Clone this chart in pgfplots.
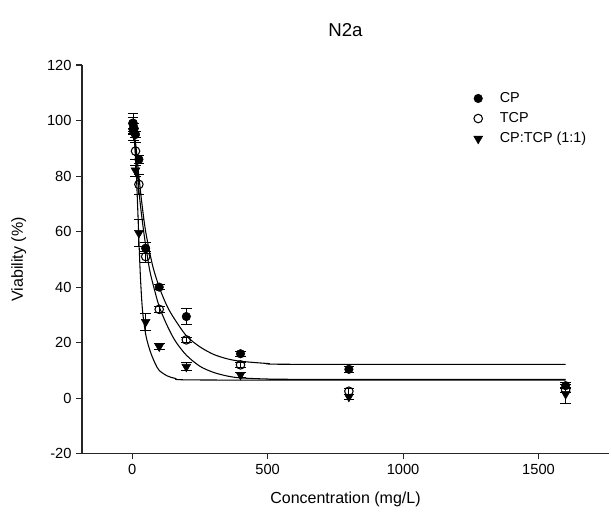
\documentclass[border=0pt]{standalone}
\usepackage{fontspec}
\setmainfont{Liberation Sans}
\usepackage{pgfplots}
\pgfplotsset{compat=1.18}
\begin{document}
\begin{tikzpicture}
\begin{axis}[
  at={(61.5pt,46.725pt)}, anchor=south west,
  scale only axis, width=395.25pt, height=291.5pt,
  xmin=-185, xmax=1760, ymin=-20, ymax=120,
  axis lines=left, axis line style={-, line width=0.8pt, black!85},
  tick align=outside, major tick length=4.3pt,
  tick style={line width=0.8pt, black!85},
  xtick={0,500,1000,1500}, xticklabels={0,500,1000,1500},
  ytick={-20,0,20,40,60,80,100,120},
  yticklabels={-20,0,20,40,60,80,100,120},
  ticklabel style={font=\fontsize{11}{12}\selectfont},
  xlabel={Concentration (mg/L)}, ylabel={Viability (\%)},
  label style={font=\fontsize{12}{13}\selectfont},
  xlabel style={at={(axis description cs:0.5,-0.127)}, anchor=base},
  ylabel style={at={(axis description cs:-0.12,0.5)}, anchor=center},
  title={N2a}, title style={font=\fontsize{14}{15}\selectfont, at={(axis description cs:0.5,1.054)}, anchor=base},
  clip=false,
  legend style={at={(axis description cs:0.743,0.937)}, anchor=north west, draw=none, fill=none,
    font=\fontsize{10.8}{12}\selectfont, row sep=2pt, inner sep=0pt},
  legend cell align=left,
  legend image code/.code={\path (0pt,0pt) (17pt,0pt); \draw[mark repeat=2,mark phase=2,#1] plot coordinates {(0pt,0pt)(3pt,0pt)(6pt,0pt)};},
  error bars/error bar style={line width=0.7pt, black},
  error bars/error mark options={rotate=90, mark size=4pt, line width=0.7pt, black},
]
% fitted curves
\addplot[black, line width=0.8pt, smooth, forget plot] coordinates {
 (0,100) (5,97.5) (10,94) (15,90) (20,85) (25,80) (35,71) (50,60) (75,48) (100,40)
 (125,34) (150,29.5) (200,22.5) (250,18.5) (300,15.8) (350,14.2) (400,13.3) (500,12.5) (600,12.2) (1600,12.2)};
\addplot[black, line width=0.8pt, smooth, forget plot] coordinates {
 (0,100) (5,96) (10,91) (15,86) (20,80) (25,75) (30,70) (40,62) (50,55) (65,46) (80,40)
 (100,33) (130,26) (160,20.5) (200,15.5) (250,11.5) (300,9.3) (350,8) (400,7.3) (500,6.9) (600,6.8) (1600,6.8)};
\addplot[black, line width=0.8pt, smooth, forget plot] coordinates {
 (0,100) (5,97) (10,91) (15,82) (20,70) (25,57) (30,45) (35,36) (40,30) (50,23) (60,19)
 (70,16) (85,12.5) (100,10) (130,8) (160,7.1) (200,6.6) (600,6.5) (1600,6.5)};
% CP
\addplot[only marks, mark=*, mark size=3.2pt, mark options={fill=black, draw=black},
  error bars/.cd, y dir=both, y explicit] coordinates {
 (3.125,99) +- (0,2) (6.25,97.5) +- (0,1.5) (12.5,95) +- (0,1) (25,86) +- (0,1.5)
 (50,54) +- (0,2) (100,40) +- (0,1) (200,29.4) +- (0,3) (400,16) +- (0,0.8)
 (800,10.4) +- (0,1) (1600,4.5) +- (0,1)};
% TCP
\addplot[only marks, mark=o, mark size=3.2pt, mark options={fill=white, draw=black, line width=0.8pt},
  error bars/.cd, y dir=both, y explicit] coordinates {
 (3.125,99) +- (0,3.5) (6.25,97) +- (0,2) (12.5,89) +- (0,3) (25,77) +- (0,3.5)
 (50,51) +- (0,2) (100,32) +- (0,1) (200,21) +- (0,1) (400,12) +- (0,1)
 (800,2.5) +- (0,1) (1600,3) +- (0,1)};
% CP:TCP
\addplot[only marks, mark=triangle*, mark size=3.8pt, mark options={fill=black, draw=black, rotate=180},
  error bars/.cd, y dir=both, y explicit] coordinates {
 (3.125,96) +- (0,3) (6.25,95) +- (0,2) (12.5,82) +- (0,2) (25,59.5) +- (0,5)
 (50,27.5) +- (0,3) (100,18.6) +- (0,1) (200,11.3) +- (0,1.5) (400,8.4) +- (0,1)
 (800,0.5) +- (0,1) (1600,1.5) +- (0,3.3)};
\legend{CP,TCP,CP:TCP (1:1)}
\end{axis}
\pgfresetboundingbox
\path (0pt,0pt) rectangle (458.25pt,387pt);
\end{tikzpicture}
\end{document}
